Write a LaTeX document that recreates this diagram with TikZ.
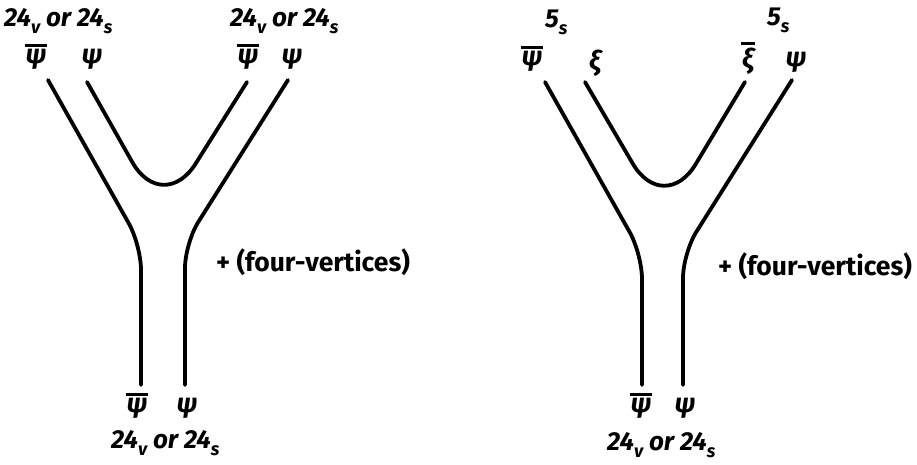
\documentclass[tikz,border=0pt]{standalone}
\usepackage{fontspec}
\setmainfont{Fira Sans}
\newcommand\lsub[1]{\raisebox{-0.28em}{\fontsize{18}{18}\selectfont #1}}
\newcommand\ob[1]{\leavevmode\vbox{\hrule height 2.6pt\kern 3pt\hbox{\kern1pt#1\kern1pt}}}
\tikzset{
  wline/.style={line width=3.8pt, line cap=round, rounded corners=#1},
  lbl/.style={font=\bfseries\itshape\fontsize{26}{26}\selectfont, inner sep=0pt, anchor=base west},
  greek/.style={font=\bfseries\itshape\fontsize{27}{27}\selectfont, inner sep=0pt},
  plus/.style={font=\bfseries\fontsize{26.5}{26.5}\selectfont, inner sep=0pt, anchor=west}
}
\begin{document}
\begin{tikzpicture}[x=1pt,y=-1pt]
\useasboundingbox (0,0) rectangle (917,464);
% ---------- left diagram ----------
\coordinate (a1) at (48,80);   \coordinate (a2) at (141,245); \coordinate (a3) at (141,385);
\coordinate (b1) at (87,82);   \coordinate (b2) at (162.7,216); \coordinate (b3) at (247,82);
\coordinate (c1) at (288,80);  \coordinate (c2) at (185,243); \coordinate (c3) at (185,385);
\draw[wline=25pt] (a1) -- (a2) -- (a3);
\draw[wline=62pt] (b1) -- (b2) -- (b3);
\draw[wline=25pt] (c1) -- (c2) -- (c3);
\node[lbl] (L1) at (4,26) {24\lsub{v} or 24\lsub{s}};
\node[lbl] (L2) at (230,26) {24\lsub{v} or 24\lsub{s}};
\node[lbl] (L3) at (111,448) {24\lsub{v} or 24\lsub{s}};
\node[greek] (g1) at (36,57) {\ob{ψ}};
\node[greek] (g2) at (92,59) {ψ};
\node[greek] (g3) at (248,57) {\ob{ψ}};
\node[greek] (g4) at (292,59) {ψ};
\node[greek] (g5) at (137,406) {\ob{ψ}};
\node[greek] (g6) at (187,408) {ψ};
\node[plus] (p1) at (216,262) {+ (four-vertices)};
% ---------- right diagram ----------
\coordinate (d1) at (545,82);  \coordinate (d2) at (642,254); \coordinate (d3) at (642,385);
\coordinate (e1) at (585,82);  \coordinate (e2) at (664,217); \coordinate (e3) at (745,82);
\coordinate (f1) at (792,80);  \coordinate (f2) at (683,253); \coordinate (f3) at (683,385);
\draw[wline=25pt] (d1) -- (d2) -- (d3);
\draw[wline=62pt] (e1) -- (e2) -- (e3);
\draw[wline=25pt] (f1) -- (f2) -- (f3);
\node[lbl] (R1) at (545,27) {5\lsub{s}};
\node[lbl] (R2) at (767,25) {5\lsub{s}};
\node[lbl] (R3) at (607,450) {24\lsub{v} or 24\lsub{s}};
\node[greek] (h1) at (532,59) {\ob{ψ}};
\node[greek] (h2) at (595,63) {ξ};
\node[greek] (h3) at (748,58) {\ob{ξ}};
\node[greek] (h4) at (796,62) {ψ};
\node[greek] (h5) at (641,406) {\ob{ψ}};
\node[greek] (h6) at (685,408) {ψ};
\node[plus] (p2) at (718,266) {+ (four-vertices)};
\end{tikzpicture}
\end{document}
